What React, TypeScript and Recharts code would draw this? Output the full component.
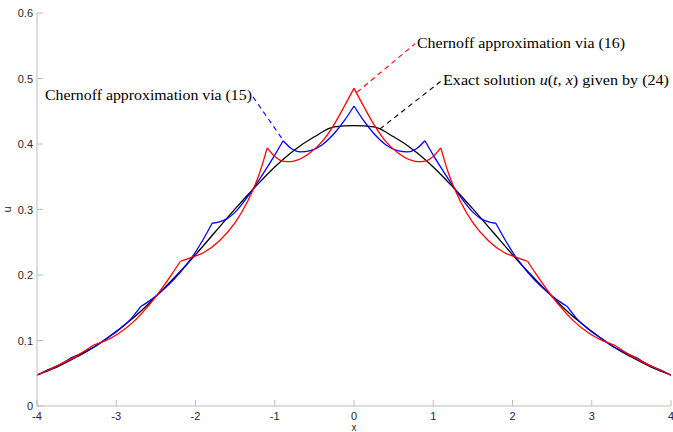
import { LineChart, Line, XAxis, YAxis, ReferenceLine, ReferenceDot } from "recharts";

const AXIS = "#bdbdbd";
const INK = "#262626";
const SANS = "'Liberation Sans', Arial, sans-serif";
const SERIF = "'Liberation Serif', 'Times New Roman', serif";

// exact solution u(t, x), every 0.25 in x
const exactX = [-4, -3.75, -3.5, -3.25, -3, -2.75, -2.5, -2.25, -2, -1.75, -1.5, -1.25, -1, -0.75, -0.5, -0.25, 0,
  0.25, 0.5, 0.75, 1, 1.25, 1.5, 1.75, 2, 2.25, 2.5, 2.75, 3, 3.25, 3.5, 3.75, 4];
const exactU = [0.0475, 0.0594, 0.0748, 0.092, 0.114, 0.138, 0.167, 0.198, 0.231, 0.266, 0.301, 0.334, 0.365, 0.391, 0.411, 0.426, 0.428,
  0.426, 0.411, 0.391, 0.365, 0.334, 0.301, 0.266, 0.231, 0.198, 0.167, 0.138, 0.114, 0.092, 0.0748, 0.0594, 0.0475];

// Chernoff approximation via (15)
const chern15X = [-4, -3.85, -3.7, -3.58, -3.45, -3.3, -3.1, -2.95, -2.8, -2.69, -2.6, -2.5, -2.35, -2.2, -2.05, -1.9,
  -1.79, -1.7, -1.6, -1.5, -1.34, -1.15, -1, -0.894, -0.8, -0.68, -0.55, -0.4, -0.25, -0.12, 0,
  0.12, 0.25, 0.4, 0.55, 0.68, 0.8, 0.894, 1, 1.15, 1.34, 1.5, 1.6, 1.7, 1.79,
  1.9, 2.05, 2.2, 2.35, 2.5, 2.6, 2.69, 2.8, 2.95, 3.1, 3.3, 3.45, 3.58, 3.7, 3.85, 4];
const chern15U = [0.047, 0.056, 0.064, 0.073, 0.08, 0.089, 0.105, 0.118, 0.135, 0.152, 0.159, 0.168, 0.184, 0.203, 0.226, 0.255,
  0.279, 0.281, 0.286, 0.296, 0.32, 0.354, 0.383, 0.405, 0.394, 0.388, 0.39, 0.399, 0.416, 0.436, 0.458,
  0.436, 0.416, 0.399, 0.39, 0.388, 0.394, 0.405, 0.383, 0.354, 0.32, 0.296, 0.286, 0.281, 0.279,
  0.255, 0.226, 0.203, 0.184, 0.168, 0.159, 0.152, 0.135, 0.118, 0.105, 0.089, 0.08, 0.073, 0.064, 0.056, 0.047];
const chern15Kinks = [-3.58, -2.69, -1.79, -0.894, 0, 0.894, 1.79, 2.69, 3.58];

// Chernoff approximation via (16)
const chern16X = [-4, -3.8, -3.6, -3.45, -3.285, -3.15, -2.98, -2.77, -2.6, -2.47, -2.3, -2.19,
  -2.05, -1.9, -1.7, -1.5, -1.34, -1.19, -1.095, -1, -0.9, -0.8, -0.7, -0.55, -0.4, -0.25, -0.12, 0,
  0.12, 0.25, 0.4, 0.55, 0.7, 0.8, 0.9, 1, 1.095, 1.19, 1.34, 1.5, 1.7, 1.9, 2.05,
  2.19, 2.3, 2.47, 2.6, 2.77, 2.98, 3.15, 3.285, 3.45, 3.6, 3.8, 4];
const chern16U = [0.047, 0.058, 0.07, 0.08, 0.093, 0.099, 0.11, 0.13, 0.152, 0.172, 0.201, 0.221,
  0.227, 0.234, 0.252, 0.28, 0.313, 0.356, 0.394, 0.381, 0.374, 0.373, 0.376, 0.387, 0.404, 0.43, 0.458, 0.485,
  0.458, 0.43, 0.404, 0.387, 0.376, 0.373, 0.374, 0.381, 0.394, 0.356, 0.313, 0.28, 0.252, 0.234, 0.227,
  0.221, 0.201, 0.172, 0.152, 0.13, 0.11, 0.099, 0.093, 0.08, 0.07, 0.058, 0.047];
const chern16Kinks = [-3.285, -2.19, -1.095, 0, 1.095, 2.19, 3.285];

const xTicks = [-4, -3, -2, -1, 0, 1, 2, 3, 4];
const uTicks = [0, 0.1, 0.2, 0.3, 0.4, 0.5, 0.6];

const points = (xs: number[], us: number[]) => xs.map((x, i) => ({ x, u: us[i] }));

// cut a series at its kinks so each smooth arc gets its own curve
const arcs = (xs: number[], us: number[], kinks: number[]) => {
  const bounds = [xs[0], ...kinks, xs[xs.length - 1]];
  const pts = points(xs, us);
  return bounds.slice(1).map((b, i) => pts.filter((p) => p.x >= bounds[i] && p.x <= b));
};

const exact = points(exactX, exactU);
const chern15 = arcs(chern15X, chern15U, chern15Kinks);
const chern16 = arcs(chern16X, chern16U, chern16Kinks);

// ticks point into the plot, labels sit outside
const XTick = ({ x, y, payload }: any) => (
  <g>
    <line x1={x} y1={y} x2={x} y2={y - 6} stroke={AXIS} />
    <text x={x} y={y + 14} textAnchor="middle" fontSize={11} fontFamily={SANS} fill={INK}>
      {payload.value}
    </text>
  </g>
);

const YTick = ({ x, y, payload }: any) => (
  <g>
    <line x1={x} y1={y} x2={x + 6} y2={y} stroke={AXIS} />
    <text x={x - 4} y={y + 4} textAnchor="end" fontSize={11} fontFamily={SANS} fill={INK}>
      {payload.value}
    </text>
  </g>
);

const callout = (text: React.ReactNode, width: number) => (p: any) => (
  <text x={p.cx} y={p.cy} fontSize={15} fontFamily={SERIF} fill="#000" textLength={width} lengthAdjust="spacingAndGlyphs">
    {text}
  </text>
);

const lineProps = { dataKey: "u", strokeWidth: 1.3, dot: false, activeDot: false, isAnimationActive: false } as const;

export default function App() {
  return (
    <div style={{ position: "absolute", left: 0, top: 0, background: "#fff" }}>
      <LineChart width={673} height={432} margin={{ top: 13, right: 2, bottom: 0, left: 0 }}>
        <XAxis
          type="number"
          dataKey="x"
          domain={[-4, 4]}
          ticks={xTicks}
          interval={0}
          allowDataOverflow
          height={26}
          stroke={AXIS}
          tickLine={false}
          tickSize={0}
          tickMargin={0}
          tick={<XTick />}
          label={{
            content: ({ viewBox }: any) => (
              <text x={viewBox.x + viewBox.width / 2} y={viewBox.y + 25} textAnchor="middle" fontSize={10} fontFamily={SANS} fill={INK}>
                x
              </text>
            ),
          }}
        />
        <YAxis
          type="number"
          dataKey="u"
          domain={[0, 0.6]}
          ticks={uTicks}
          interval={0}
          allowDataOverflow
          width={37}
          stroke={AXIS}
          tickLine={false}
          tickSize={0}
          tickMargin={0}
          tick={<YTick />}
          label={{
            content: ({ viewBox }: any) => (
              <text
                transform={`translate(${viewBox.x + 11},${viewBox.y + viewBox.height / 2}) rotate(-90)`}
                textAnchor="middle"
                fontSize={11}
                fontFamily={SANS}
                fill={INK}
              >
                u
              </text>
            ),
          }}
        />
        <Line {...lineProps} data={exact} type="monotone" stroke="#000" />
        {chern15.map((seg, i) => (
          <Line key={`c15-${i}`} {...lineProps} data={seg} type="monotone" stroke="#0000ff" />
        ))}
        {chern16.map((seg, i) => (
          <Line key={`c16-${i}`} {...lineProps} data={seg} type="monotone" stroke="#ff0000" />
        ))}

        <ReferenceLine segment={[{ x: -1.274, y: 0.472 }, { x: -0.896, y: 0.406 }]} stroke="#0000ff" strokeWidth={1.1} strokeDasharray="5 4" />
        <ReferenceLine segment={[{ x: 0.038, y: 0.479 }, { x: 0.77, y: 0.553 }]} stroke="#ff0000" strokeWidth={1.1} strokeDasharray="5 4" />
        <ReferenceLine segment={[{ x: 0.328, y: 0.423 }, { x: 1.098, y: 0.496 }]} stroke="#000" strokeWidth={1.1} strokeDasharray="5 4" />

        <ReferenceDot x={-3.899} y={0.467} r={0} shape={callout("Chernoff approximation via (15)", 207)} />
        <ReferenceDot x={0.795} y={0.546} r={0} shape={callout("Chernoff approximation via (16)", 208)} />
        <ReferenceDot
          x={1.123}
          y={0.49}
          r={0}
          shape={callout(
            <>
              Exact solution <tspan fontStyle="italic">u</tspan>(<tspan fontStyle="italic">t, x</tspan>) given by (24)
            </>,
            226
          )}
        />
      </LineChart>
    </div>
  );
}
